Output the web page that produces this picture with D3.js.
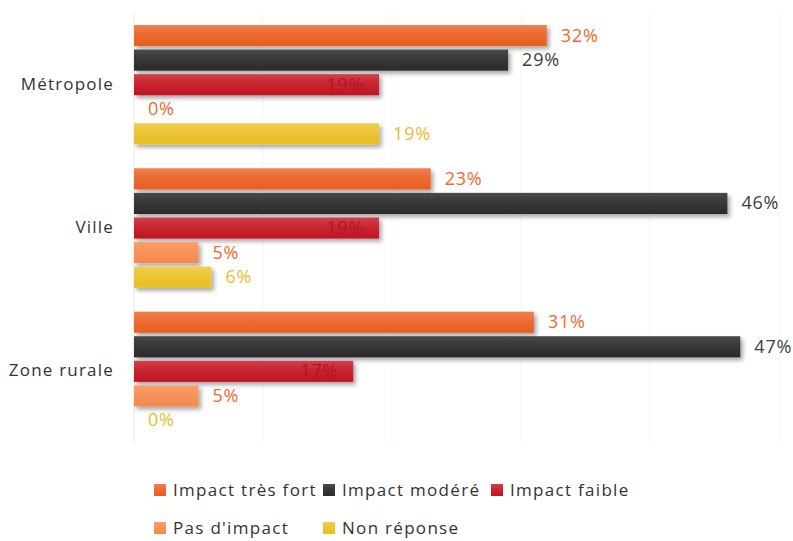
<!DOCTYPE html>
<html>
<head>
<meta charset="utf-8">
<script src="https://cdn.jsdelivr.net/npm/d3@7/dist/d3.min.js"></script>
<style>
  html, body { margin: 0; padding: 0; background: #ffffff; }
  svg { display: block; }
  text { font-family: "Open Sans", Lato, "DejaVu Sans", sans-serif; }
</style>
</head>
<body>
<svg id="chart" width="793" height="541"></svg>
<script>
// Zones and response categories
const categories = ["Métropole", "Ville", "Zone rurale"];
const seriesNames = ["Impact très fort", "Impact modéré", "Impact faible", "Pas d'impact", "Non réponse"];

// Share of answers (%) per zone, one array per response
const impactTresFort = [32, 23, 31];
const impactModere   = [29, 46, 47];
const impactFaible   = [19, 19, 17];
const pasDImpact     = [0, 5, 5];
const nonReponse     = [19, 6, 0];

const xTicks = [0, 10, 20, 30, 40, 50];

const seriesValues = [impactTresFort, impactModere, impactFaible, pasDImpact, nonReponse];

// Bar fill (top, bottom) and value label colour per response
const styles = [
  { top: "#f2804f", bottom: "#e85d1f", label: "#ee6a2e" },
  { top: "#4a4a4a", bottom: "#2c2a2b", label: "#404040" },
  { top: "#d2404a", bottom: "#c01521", label: "#b01822" },
  { top: "#fba06c", bottom: "#f48a4d", label: "#ee6a2e" },
  { top: "#f0ce4e", bottom: "#e9be22", label: "#e8bd2c" }
];

const svg = d3.select("#chart");

const x = d3.scaleLinear().domain([0, 50]).range([134, 779]);
const y = d3.scaleBand().domain(categories).range([13, 443])
  .paddingInner(0.143).paddingOuter(0.0715);
const ySub = d3.scaleBand().domain(seriesNames).range([0, y.bandwidth()])
  .paddingInner(0.14).paddingOuter(0.07);

const defs = svg.append("defs");
styles.forEach((s, i) => {
  const g = defs.append("linearGradient").attr("id", "grad" + i)
    .attr("x1", 0).attr("y1", 0).attr("x2", 0).attr("y2", 1);
  g.append("stop").attr("offset", "0%").attr("stop-color", s.top);
  g.append("stop").attr("offset", "45%").attr("stop-color", d3.interpolateRgb(s.top, s.bottom)(0.6));
  g.append("stop").attr("offset", "100%").attr("stop-color", s.bottom);
});
const shadow = defs.append("filter").attr("id", "shadow")
  .attr("x", "-5%").attr("y", "-30%").attr("width", "115%").attr("height", "180%");
shadow.append("feDropShadow").attr("dx", 2.5).attr("dy", 3).attr("stdDeviation", 2)
  .attr("flood-color", "#000").attr("flood-opacity", 0.35);

// Faint vertical gridlines
svg.append("g").selectAll("line").data(xTicks).join("line")
  .attr("x1", d => x(d)).attr("x2", d => x(d))
  .attr("y1", 13).attr("y2", 443)
  .attr("stroke", d => d === 0 ? "#e8e8e8" : "#f6f6f6").attr("stroke-width", 1);

// Zone labels
svg.append("g").selectAll("text").data(categories).join("text")
  .attr("x", 114).attr("y", d => y(d) + y.bandwidth() / 2 + 5)
  .attr("text-anchor", "end").attr("font-size", 17).attr("letter-spacing", 1.2)
  .attr("fill", "#333")
  .text(d => d);

// Bars and value labels
const rows = [];
categories.forEach((c, ci) => {
  seriesNames.forEach((s, si) => {
    rows.push({ cat: c, series: s, si, value: seriesValues[si][ci] });
  });
});

const barG = svg.append("g");
barG.selectAll("rect").data(rows.filter(d => d.value > 0)).join("rect")
  .attr("x", x(0))
  .attr("y", d => y(d.cat) + ySub(d.series))
  .attr("width", d => x(d.value) - x(0))
  .attr("height", ySub.bandwidth())
  .attr("fill", d => `url(#grad${d.si})`)
  .attr("filter", "url(#shadow)");

svg.append("g").selectAll("text").data(rows).join("text")
  .attr("x", d => d.si === 2 ? x(d.value) - 15 : x(d.value) + 14)
  .attr("y", d => y(d.cat) + ySub(d.series) + ySub.bandwidth() / 2 + 6)
  .attr("text-anchor", d => d.si === 2 ? "end" : "start")
  .attr("font-size", 18).attr("letter-spacing", 0.8)
  .attr("fill", d => styles[d.si].label)
  .text(d => d.value + "%");

// Legend
const legendPos = [[154, 490], [323, 490], [491, 490], [154, 528], [323, 528]];
const legend = svg.append("g").selectAll("g").data(seriesNames).join("g")
  .attr("transform", (d, i) => `translate(${legendPos[i][0]},${legendPos[i][1]})`);
legend.append("rect").attr("x", 0).attr("y", -6).attr("width", 12).attr("height", 12)
  .attr("fill", (d, i) => `url(#grad${i})`);
legend.append("text").attr("x", 19).attr("y", 6)
  .attr("font-size", 17).attr("fill", "#333").attr("letter-spacing", 1.3)
  .text(d => d);
</script>
</body>
</html>
